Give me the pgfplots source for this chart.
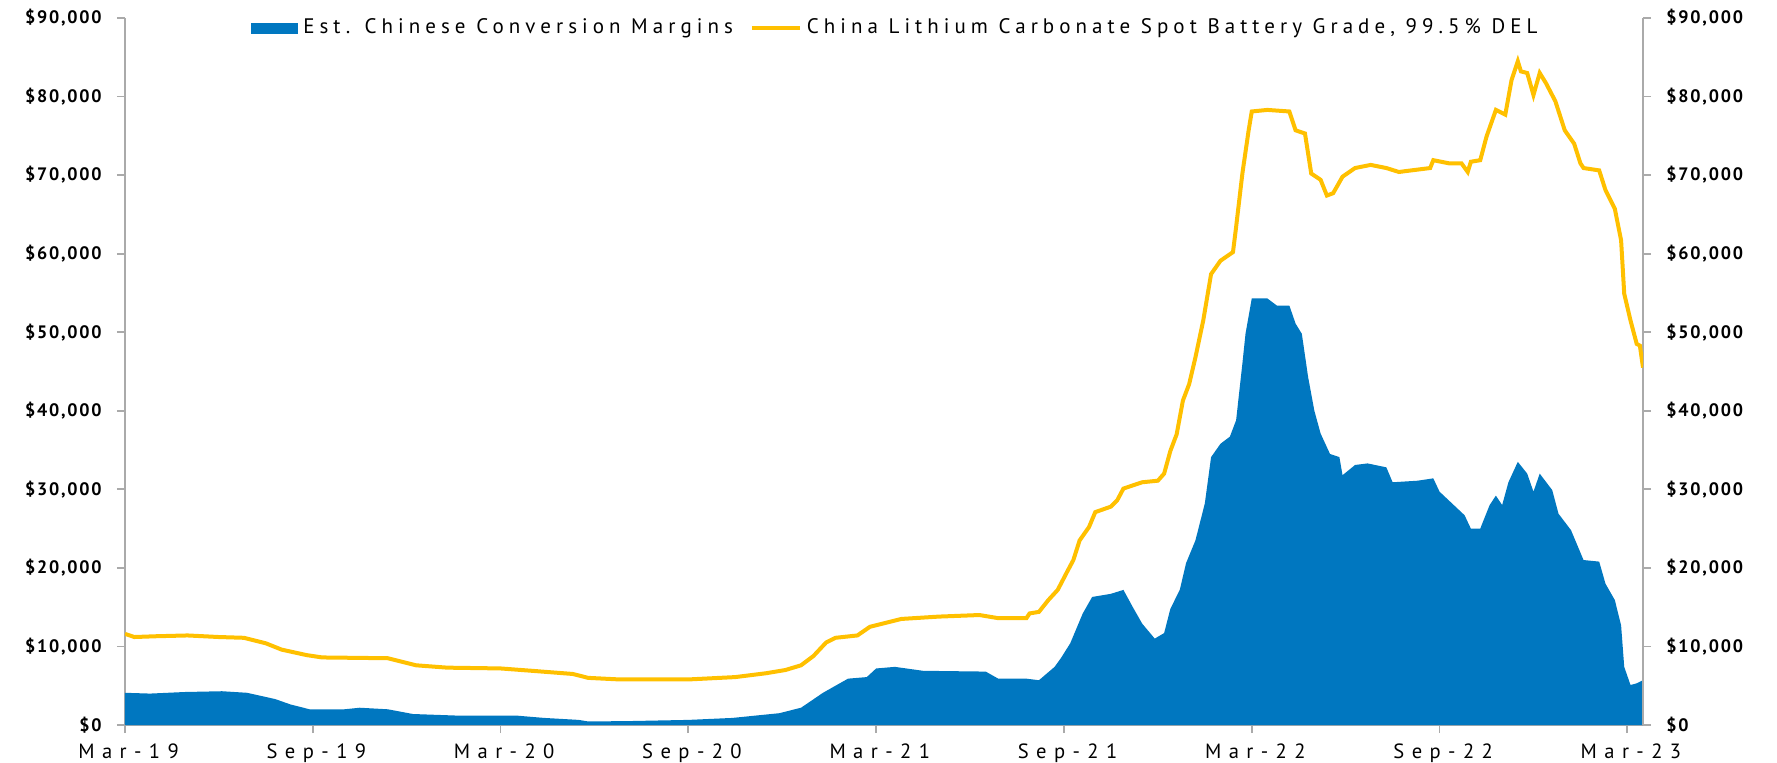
\documentclass[border=0pt]{standalone}
\usepackage{fontspec}
\setmainfont{PT Sans}
\newfontfamily\legfont{PT Sans}[LetterSpace=24]
\newfontfamily\ytfont{PT Sans}[LetterSpace=10]
\newfontfamily\xtfont{PT Sans}[LetterSpace=36]
\usepackage{pgfplots}
\pgfplotsset{compat=1.18}
\definecolor{bblue}{RGB}{0,119,192}
\definecolor{ygold}{RGB}{255,192,0}
\definecolor{axgray}{RGB}{170,170,170}
\begin{document}
\begin{tikzpicture}
\pgfplotsset{common/.style={
  width=759pt, height=353.5pt, scale only axis,
  xmin=0, xmax=48.5, ymin=0, ymax=90000,
  scaled y ticks=false, scaled x ticks=false,
  ytick={0,10000,...,90000},
  yticklabels={{\$0},{\$10,000},{\$20,000},{\$30,000},{\$40,000},{\$50,000},{\$60,000},{\$70,000},{\$80,000},{\$90,000}},
  axis line style={draw=axgray, line width=0.9pt},
  major tick style={draw=axgray, line width=0.9pt},
  tick align=outside, major tick length=4pt,
  clip=true,
}}
\begin{axis}[common,
  axis y line*=left, axis x line*=bottom,
  xtick={0,6,...,48},
  xticklabels={Mar-19,Sep-19,Mar-20,Sep-20,Mar-21,Sep-21,Mar-22,Sep-22,Mar-23},
  xticklabel style={font=\xtfont\fontsize{10.3}{11}\selectfont, anchor=north, inner sep=0pt, yshift=-5pt, xshift=1.8pt},
  yticklabel style={font=\ytfont\fontsize{9}{10}\selectfont\bfseries, anchor=east, inner sep=0pt, xshift=-7.5pt},
]
\coordinate (O) at (rel axis cs:0,0);
\addplot[fill=bblue, draw=none] coordinates {
(0,4100)(0.8,4000)(1.9,4200)(3.1,4300)(3.9,4100)(4.8,3300)(5.3,2600)(5.9,2000)
(7.0,2000)(7.5,2200)(8.4,2000)(9.2,1400)(10.6,1200)(12.5,1200)(13.4,900)(14.5,650)
(14.8,450)(16.1,500)(18.0,650)(19.4,900)(20.9,1500)(21.6,2200)(22.3,4100)(23.1,5900)
(23.7,6100)(24.0,7200)(24.6,7400)(25.5,6900)(27.5,6800)(27.9,5900)(28.8,5900)(29.2,5700)
(29.7,7400)(29.9,8500)(30.2,10400)(30.6,14200)(30.9,16300)(31.5,16700)(31.9,17200)(32.2,15000)
(32.5,12900)(32.9,11000)(33.2,11700)(33.4,14800)(33.7,17200)(33.9,20600)(34.2,23500)(34.5,28200)
(34.7,34100)(35.0,35800)(35.3,36700)(35.5,38800)(35.7,46000)(35.8,49800)(36.0,54300)(36.5,54300)
(36.8,53400)(37.2,53400)(37.4,51100)(37.6,49800)(37.8,44300)(38.0,40000)(38.2,37100)(38.5,34500)
(38.8,34100)(38.9,31800)(39.3,33100)(39.7,33300)(40.3,32800)(40.5,30900)(41.3,31100)(41.8,31400)
(42.0,29700)(42.4,28200)(42.8,26700)(43.0,25000)(43.3,25000)(43.6,28000)(43.8,29200)(44.0,28000)
(44.2,30900)(44.5,33500)(44.8,32000)(45.0,29700)(45.2,32000)(45.6,29900)(45.8,26900)(46.2,24800)
(46.6,21000)(47.1,20800)(47.3,18000)(47.6,15900)(47.8,12700)(47.9,7400)(48.1,5100)(48.3,5300)
(48.5,5700)
} \closedcycle;
\end{axis}
\begin{axis}[common,
  axis y line*=right, axis x line=none,
  yticklabel style={font=\ytfont\fontsize{9}{10}\selectfont\bfseries, anchor=west, inner sep=0pt, xshift=7.5pt},
  legend style={at={(0.5069,0.9859)}, anchor=center, draw=none, fill=none, inner sep=0pt,
    font=\legfont\fontsize{10.5}{12}\selectfont, legend columns=2,
    nodes={inner sep=0pt},
    /tikz/every odd column/.append style={column sep=2.5pt},
    /tikz/every even column/.append style={column sep=8.5pt}},
  legend image code/.code={\draw[#1] (0pt,0pt) -- (24pt,0pt);},
]
\addlegendimage{legend image code/.code={\fill[bblue] (0pt,-2.5pt) rectangle (23pt,2.5pt);}}
\addlegendentry{Est. Chinese Conversion Margins}
\addplot[ygold, line width=2pt] coordinates {
(0,11600)(0.3,11200)(1,11300)(2,11400)(3,11200)(3.8,11100)(4.5,10400)(5.0,9600)
(5.8,8900)(6.3,8600)(8.4,8500)(9.0,7900)(9.3,7600)(10.3,7300)(12.0,7200)(13.0,6900)
(14.3,6500)(14.8,6000)(15.8,5800)(18.0,5800)(19.5,6100)(20.5,6600)(21.1,7000)(21.6,7600)
(22.0,8800)(22.4,10500)(22.7,11100)(23.4,11400)(23.8,12500)(24.2,12900)(24.8,13500)(26.0,13800)
(27.3,14000)(27.9,13600)(28.8,13600)(28.9,14200)(29.2,14400)(29.5,15900)(29.8,17200)(30.1,19500)
(30.3,21000)(30.5,23500)(30.8,25200)(31.0,27100)(31.5,27800)(31.7,28600)(31.9,30100)(32.5,30900)
(33.0,31100)(33.2,32000)(33.4,34900)(33.6,37000)(33.8,41300)(34.0,43400)(34.2,46800)(34.45,51500)
(34.7,57400)(35.0,59100)(35.4,60200)(35.5,63400)(35.7,70200)(35.9,75700)(36.0,78100)(36.5,78300)
(37.2,78100)(37.4,75700)(37.7,75300)(37.9,70200)(38.2,69400)(38.4,67400)(38.6,67700)(38.9,69800)
(39.3,70900)(39.8,71300)(40.3,70900)(40.7,70400)(41.7,70900)(41.8,71900)(42.3,71500)(42.7,71500)
(42.9,70400)(43.0,71700)(43.3,71900)(43.5,74900)(43.8,78300)(44.1,77700)(44.3,82100)(44.5,84500)
(44.6,83200)(44.8,83000)(45.0,80200)(45.2,83000)(45.4,81700)(45.7,79400)(46.0,75700)(46.3,74000)
(46.5,71500)(46.6,70900)(47.1,70600)(47.3,68100)(47.6,65700)(47.8,61700)(47.9,54900)(48.1,51500)
(48.3,48500)(48.4,48300)(48.5,45500)
};
\addlegendentry{China Lithium Carbonate Spot Battery Grade, 99.5\% DEL}
\end{axis}
\pgfresetboundingbox
\useasboundingbox ([shift={(-62.5pt,-18.5pt)}]O) rectangle ++(888.5pt,381pt);
\end{tikzpicture}
\end{document}
